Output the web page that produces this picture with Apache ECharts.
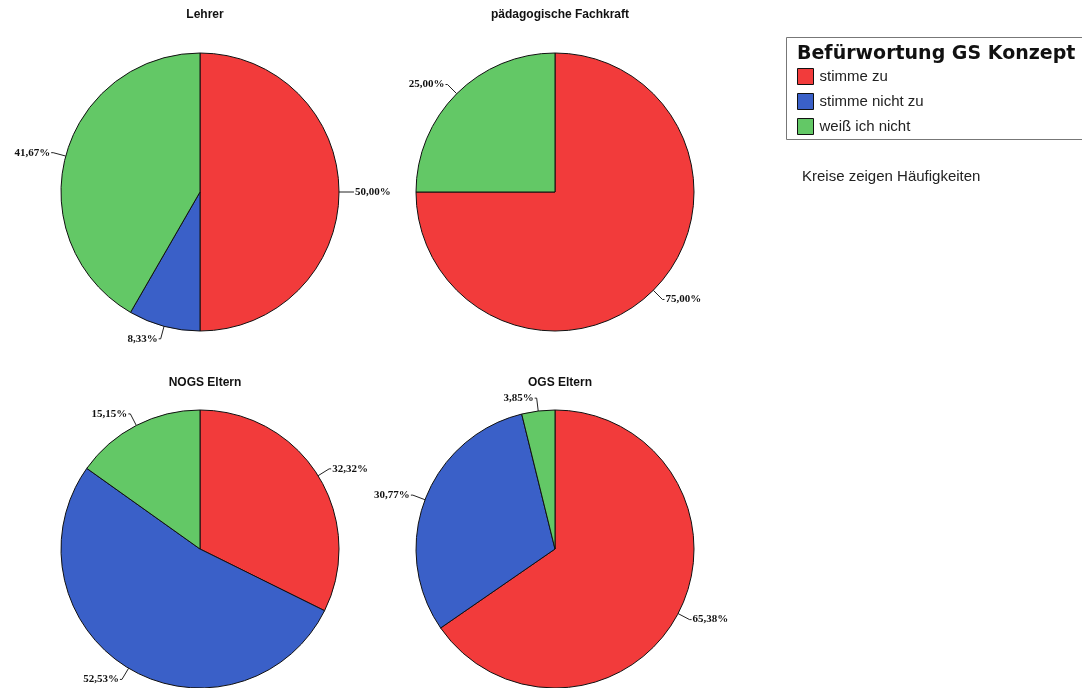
<!DOCTYPE html>
<html>
<head>
<meta charset="utf-8">
<script src="https://cdn.jsdelivr.net/npm/echarts@6/dist/echarts.min.js"></script>
<style>
  html, body { margin: 0; padding: 0; background: #fff; }
  #chart { width: 1082px; height: 688px; }
</style>
</head>
<body>
<div id="chart"></div>
<script>
// Answer categories and their colours
const categories = ['stimme zu', 'stimme nicht zu', 'weiß ich nicht'];
const categoryColors = ['#F23B3B', '#3A60C8', '#63C866'];

// Groups (one pie each) and their shares in percent
const groups = ['Lehrer', 'pädagogische Fachkraft', 'NOGS Eltern', 'OGS Eltern'];
const lehrer = [50.00, 8.33, 41.67];
const fachkraft = [75.00, 0, 25.00];
const nogsEltern = [32.32, 52.53, 15.15];
const ogsEltern = [65.38, 30.77, 3.85];
const groupValues = [lehrer, fachkraft, nogsEltern, ogsEltern];

const legendTitle = 'Befürwortung GS Konzept';
const note = 'Kreise zeigen Häufigkeiten';

const centers = [[200, 192], [555, 192], [200, 549], [555, 549]];
const titleTops = [4, 4, 372, 372];
const radius = 139;

const fmt = v => v.toFixed(2).replace('.', ',') + '%';

const series = groupValues.map((vals, g) => ({
  type: 'pie',
  name: groups[g],
  center: centers[g],
  radius: radius,
  startAngle: 90,
  clockwise: true,
  animation: false,
  avoidLabelOverlap: false,
  data: vals.map((v, i) => ({
    name: categories[i],
    value: v,
    itemStyle: { color: categoryColors[i] }
  })).filter(d => d.value > 0),
  itemStyle: { borderColor: '#111', borderWidth: 1 },
  emphasis: { disabled: true },
  label: {
    show: true,
    position: 'outside',
    formatter: p => fmt(p.value),
    fontFamily: 'Liberation Serif',
    fontWeight: 'bold',
    fontSize: 11,
    color: '#111',
    distanceToLabelLine: 1,
    padding: [4, 0, 0, 0]
  },
  labelLine: {
    show: true,
    length: 13,
    length2: 2,
    lineStyle: { color: '#222', width: 1 }
  }
}));

const titles = groups.map((g, i) => ({
  text: g,
  left: centers[i][0],
  top: titleTops[i],
  textAlign: 'center',
  textStyle: { fontFamily: 'Liberation Sans', fontWeight: 'bold', fontSize: 12, color: '#111' }
}));
titles.push({
  text: legendTitle,
  left: 792,
  top: 40,
  textStyle: { fontFamily: 'DejaVu Sans', fontWeight: 'bold', fontSize: 19, color: '#111' }
});
titles.push({
  text: note,
  left: 797,
  top: 164,
  textStyle: { fontFamily: 'Liberation Sans', fontWeight: 'normal', fontSize: 15, color: '#222' }
});

const chart = echarts.init(document.getElementById('chart'), null, { renderer: 'canvas' });
chart.setOption({
  backgroundColor: '#fff',
  title: titles,
  legend: {
    orient: 'vertical',
    left: 797,
    top: 68,
    padding: 0,
    data: categories,
    icon: 'rect',
    itemWidth: 16,
    itemHeight: 16,
    itemGap: 8,
    selectedMode: false,
    itemStyle: { borderColor: '#111', borderWidth: 1 },
    textStyle: { fontFamily: 'Liberation Sans', fontSize: 15, color: '#222', padding: [0, 0, 0, 1] }
  },
  graphic: [{
    type: 'rect',
    shape: { x: 786.5, y: 37.5, width: 310, height: 102 },
    style: { fill: 'none', stroke: '#777', lineWidth: 1 },
    z: -1
  }],
  series: series
});
</script>
</body>
</html>
